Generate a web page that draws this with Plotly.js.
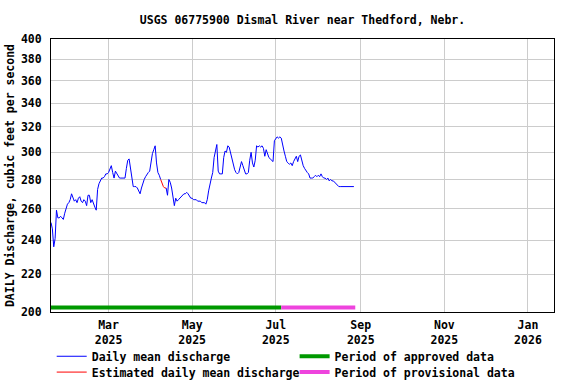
<!DOCTYPE html>
<html>
<head>
<meta charset="utf-8">
<script src="https://cdn.plot.ly/plotly-3.0.1.min.js"></script>
<style>
html,body{margin:0;padding:0;background:#fff;}
#chart{width:576px;height:384px;}
</style>
</head>
<body>
<div id="chart"></div>
<script>
// ---- data ----
const titleText = 'USGS 06775900 Dismal River near Thedford, Nebr.';
const yTitleText = 'DAILY Discharge, cubic feet per second';
const seriesStart = '2025-01-18';
// daily mean discharge, one value per day from seriesStart (null = estimated days)
const dailyMean = [
  251,247,236,241,259,254,254,255,254,253,
  257,260,263,264,266,270,267,265,266,264,
  267,268,265,264,266,265,262,269,269,264,
  266,263,261,259,273,277,279,281,281,282,
  284,284,285,287,290,285,281,286,284,282,
  281,281,281,281,281,288,294,295,288,278,
  275,275,275,274,272,270,274,278,280,282,
  284,285,286,293,299,302,305,292,285,283,
  280,null,null,null,274,269,280,278,274,268,
  262,267,265,266,267,268,269,270,270,271,
  270,268,267,267,266,266,266,265,265,265,
  264,264,264,263,266,272,278,281,285,296,
  301,306,286,284,284,284,296,301,300,305,
  304,299,295,290,287,285,284,285,289,293,
  290,286,284,284,285,294,300,292,289,294,
  305,304,305,304,305,303,297,302,299,296,
  295,294,293,309,311,312,311,312,311,305,
  301,297,293,292,291,292,290,293,295,297,
  293,297,298,293,290,288,286,285,284,281,
  281,281,282,283,282,283,282,284,282,281,
  281,280,281,279,280,279,279,278,277,276,
  275,275,275,275,275,275,275,275,275,275,
  275,275
];
const estimatedDates = ['2025-04-08','2025-04-09','2025-04-10','2025-04-11','2025-04-12'];
const estimatedValues = [280,277,275,274,274];
const approvedPeriod = ['2025-01-18','2025-07-05'];
const provisionalPeriod = ['2025-07-05','2025-08-28'];
const xRange = ['2025-01-18','2026-01-20'];
const xTickVals = ['2025-03-01','2025-05-01','2025-07-01','2025-09-01','2025-11-01','2026-01-01'];
const xTickText = ['Mar<br>2025','May<br>2025','Jul<br>2025','Sep<br>2025','Nov<br>2025','Jan<br>2026'];
const yTickVals = [200,220,240,260,280,300,320,340,360,380,400];
const yRange = [200,400];
const legendNames = ['Daily mean discharge','Estimated daily mean discharge','Period of approved data','Period of provisional data'];

// ---- build ----
const dailyDates = dailyMean.map((_, i) => {
  const p = seriesStart.split('-').map(Number);
  return new Date(Date.UTC(p[0], p[1]-1, p[2]+i)).toISOString().slice(0,10);
});

const FONT = {family:'"DejaVu Sans Mono", monospace', size:11.5, color:'#000', weight:'bold'};
const barLevel = 0.0168;

const traces = [
  {x: dailyDates, y: dailyMean, type:'scatter', mode:'lines', name: legendNames[0],
   line:{color:'#0000ff', width:1}, connectgaps:false, legend:'legend'},
  {x: estimatedDates, y: estimatedValues, type:'scatter', mode:'lines', name: legendNames[1],
   line:{color:'#ff0000', width:1}, legend:'legend2'},
  {x: approvedPeriod, y: approvedPeriod.map(()=>barLevel), yaxis:'y2', type:'scatter', mode:'lines',
   name: legendNames[2], line:{color:'#009900', width:4}, legend:'legend3'},
  {x: provisionalPeriod, y: provisionalPeriod.map(()=>barLevel), yaxis:'y2', type:'scatter', mode:'lines',
   name: legendNames[3], line:{color:'#ee44dd', width:4}, legend:'legend4'}
];

function leg(x, y) {
  return {x:x, xanchor:'left', y:y, yanchor:'top', font:FONT, bgcolor:'rgba(0,0,0,0)',
          borderwidth:0, orientation:'v'};
}

const layout = {
  width:576, height:384,
  margin:{l:51, r:22, t:39, b:72, pad:0, autoexpand:false},
  paper_bgcolor:'#fff', plot_bgcolor:'#fff',
  font: FONT,
  showlegend:true,
  title:{text:titleText, font:FONT, x:0.5, xref:'paper', y:1-20/384, yref:'container', yanchor:'middle'},
  xaxis:{type:'date', range:xRange, tickvals:xTickVals, ticktext:xTickText,
    showgrid:true, gridcolor:'#cccccc', gridwidth:1, zeroline:false,
    showline:true, mirror:true, linecolor:'#000', linewidth:1, ticks:'',
    ticklabelstandoff:2,
    tickfont:FONT, automargin:false},
  yaxis:{type:'log', range:yRange.map(Math.log10), tickvals:yTickVals, ticktext:yTickVals.map(String),
    showgrid:true, gridcolor:'#cccccc', gridwidth:1, zeroline:false,
    showline:true, mirror:true, linecolor:'#000', linewidth:1, ticks:'',
    ticklabelstandoff:6,
    tickfont:FONT, automargin:false,
    title:{text:yTitleText, font:FONT, standoff:3}},
  yaxis2:{overlaying:'y', range:[0,1], visible:false, fixedrange:true},
  legend: leg(0.0014, -0.109),
  legend2: leg(0.0014, -0.167),
  legend3: leg(0.4843, -0.109),
  legend4: leg(0.4843, -0.167),
  hovermode:false
};

Plotly.newPlot('chart', traces, layout, {displayModeBar:false, staticPlot:true});
</script>
</body>
</html>
